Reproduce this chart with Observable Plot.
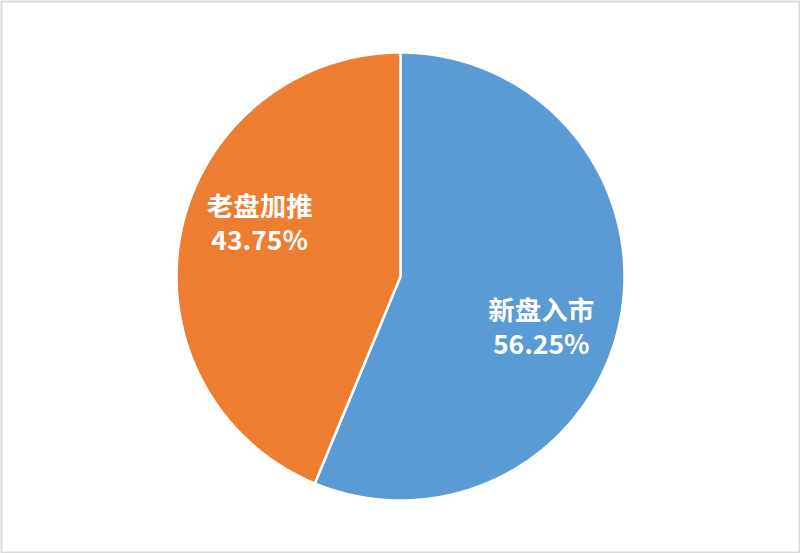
<!DOCTYPE html>
<html>
<head>
<meta charset="utf-8">
<script src="https://cdn.jsdelivr.net/npm/d3@7"></script>
<script src="https://cdn.jsdelivr.net/npm/@observablehq/plot@0.6"></script>
<style>
  html, body { margin: 0; padding: 0; background: #fff; }
  #chart svg { display: block; }
</style>
</head>
<body>
<div id="chart"></div>
<script>
// Share of new supply: new launches vs. additional phases of existing projects
const categories = ["新盘入市", "老盘加推"];
const shares = [56.25, 43.75];
const colors = ["#5b9bd5", "#ed7d31"];

const W = 800, H = 553;
const R = 224;               // pie radius in pixels
const cx = 400, cy = 276;    // pie centre

// Slice angles (clockwise from 12 o'clock)
const arcs = d3.pie().sort(null).value(d => d.value)(
  categories.map((name, i) => ({name, value: shares[i]}))
);

// Outline of each slice as a closed polygon in unit-circle coordinates
const slicePts = arcs.flatMap(a => {
  const n = Math.max(8, Math.ceil((a.endAngle - a.startAngle) / 0.01));
  const pts = [{name: a.data.name, x: 0, y: 0}];
  for (let k = 0; k <= n; ++k) {
    const t = a.startAngle + (a.endAngle - a.startAngle) * k / n;
    pts.push({name: a.data.name, x: Math.sin(t), y: -Math.cos(t)});
  }
  return pts;
});

// Labels sit inside each slice, slightly turned clockwise from the mid-angle
const labelRadius = 0.67, labelTurn = 0.157;
const labels = arcs.map(a => {
  const t = (a.startAngle + a.endAngle) / 2 + labelTurn;
  return {
    x: Math.sin(t) * labelRadius,
    y: -Math.cos(t) * labelRadius,
    name: a.data.name,
    pct: `${a.data.value.toFixed(2)}%`
  };
});

const labelStyle = {
  x: "x", y: "y", fill: "white", fontSize: 26.5, fontWeight: "bold",
  textAnchor: "middle", lineAnchor: "middle"
};

const chart = Plot.plot({
  width: W,
  height: H,
  margin: 0,
  x: {domain: [-1, 1], range: [cx - R, cx + R], axis: null},
  y: {domain: [-1, 1], range: [cy - R, cy + R], axis: null},
  color: {domain: categories, range: colors},
  style: {fontFamily: "'Noto Sans CJK SC', 'Noto Sans', sans-serif"},
  marks: [
    Plot.frame({stroke: "#d9d9d9", strokeWidth: 2, inset: 1}),
    Plot.line(slicePts, {
      x: "x", y: "y", z: "name", fill: "name",
      stroke: "white", strokeWidth: 2.5, strokeLinejoin: "round",
      curve: "linear-closed"
    }),
    Plot.text(labels, {...labelStyle, text: "name", dy: -17}),
    Plot.text(labels, {...labelStyle, text: "pct", dy: 17})
  ]
});

document.getElementById("chart").append(chart);
</script>
</body>
</html>
